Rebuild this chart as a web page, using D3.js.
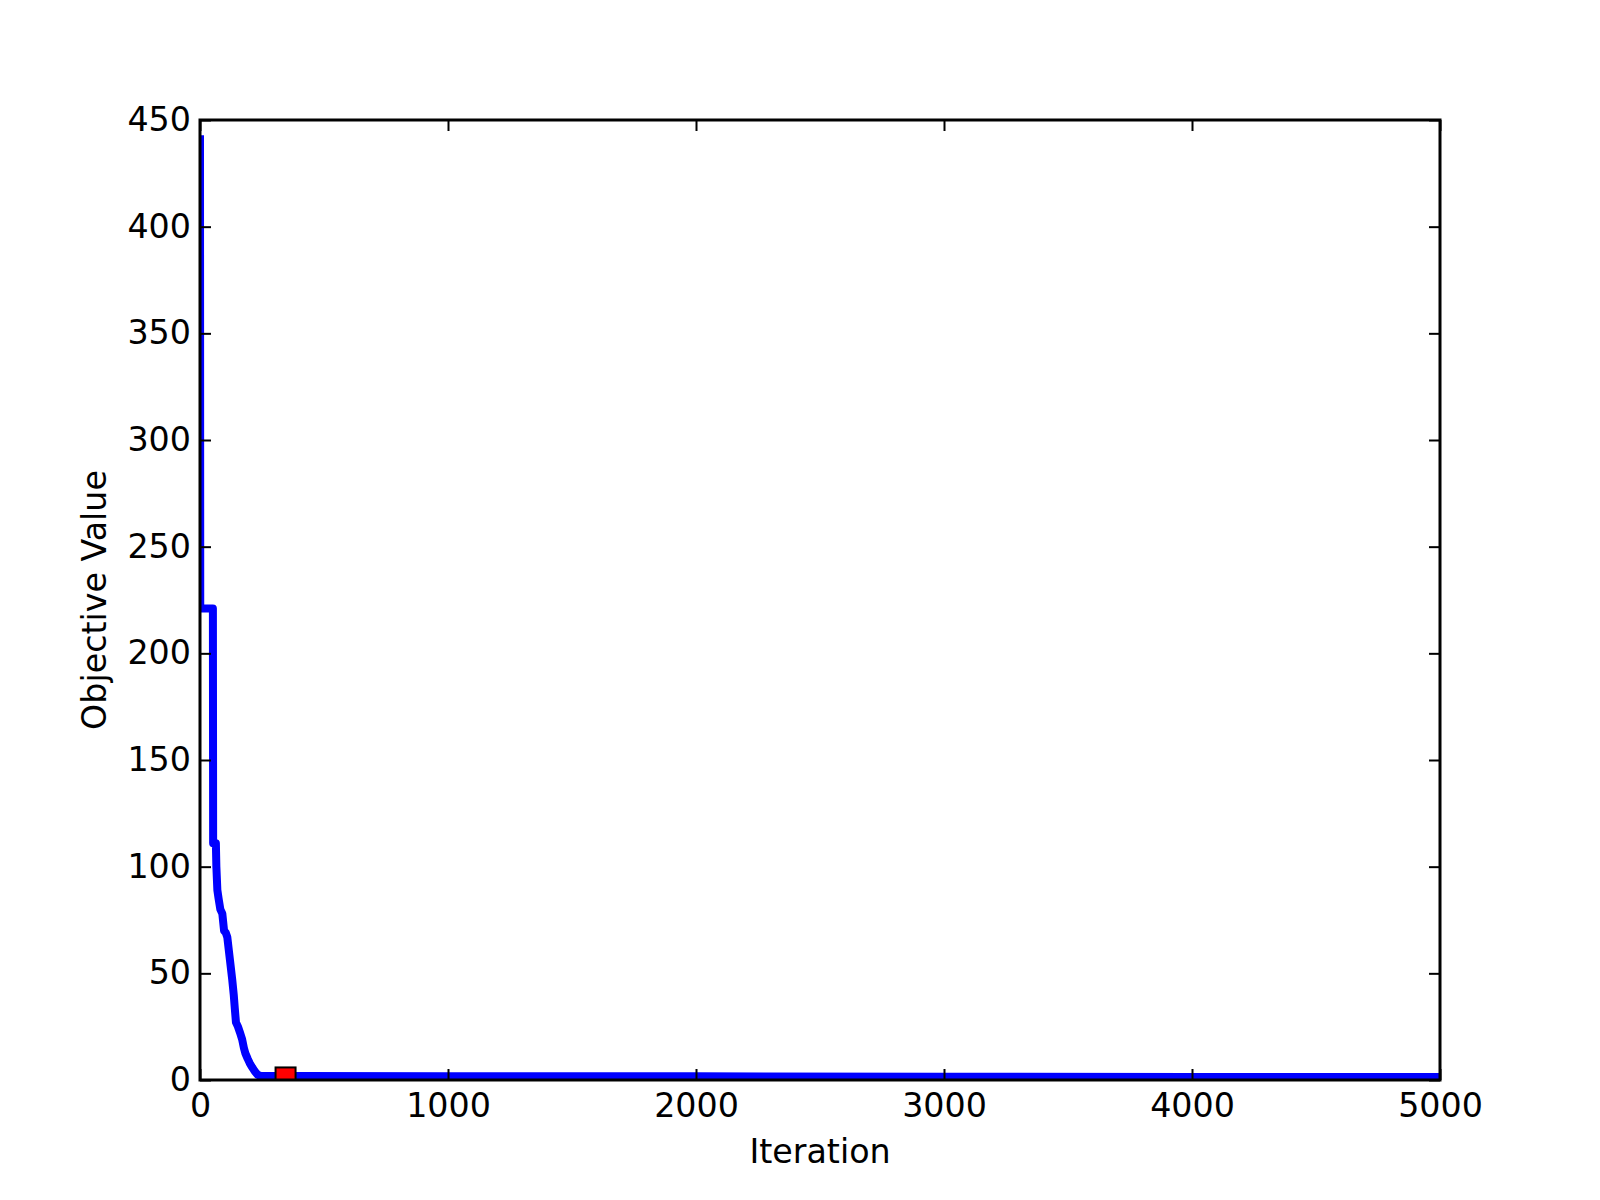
<!DOCTYPE html>
<html>
<head>
<meta charset="utf-8">
<script src="https://cdn.jsdelivr.net/npm/d3@7"></script>
<style>
  html, body { margin: 0; padding: 0; background: #fff; }
  svg { display: block; }
  text { font-family: "DejaVu Sans", sans-serif; fill: #000; }
</style>
</head>
<body>
<script>
// Data
const iterations = [0, 1, 52, 53, 64, 66, 70, 75, 82, 90, 97, 104, 110, 117, 121, 130, 136, 140, 145, 153, 162, 170, 177, 183, 192, 200, 210, 221, 232, 245, 400, 1000, 2000, 3000, 4000, 5000];
const objectiveValues = [441, 221, 221, 111, 111, 100, 89, 85, 80, 78, 70, 69, 67, 60, 56, 47, 40, 34, 27, 25, 22, 19, 15, 12.5, 10, 8, 6, 4, 2.5, 1.9, 1.9, 1.8, 1.7, 1.55, 1.45, 1.35];
const bestIteration = [345];
const bestValue = [1.2];
const xTicks = [0, 1000, 2000, 3000, 4000, 5000];
const yTicks = [0, 50, 100, 150, 200, 250, 300, 350, 400, 450];
const xLabel = "Iteration";
const yLabel = "Objective Value";

const W = 1600, H = 1200;
const m = { left: 200, right: 1440, top: 120, bottom: 1080 };

const svg = d3.select("body").append("svg").attr("width", W).attr("height", H);

const x = d3.scaleLinear().domain([0, 5000]).range([m.left, m.right]);
const y = d3.scaleLinear().domain([0, 450]).range([m.bottom, m.top]);

svg.append("defs").append("clipPath").attr("id", "clip")
  .append("rect").attr("x", m.left).attr("y", m.top)
  .attr("width", m.right - m.left).attr("height", m.bottom - m.top);

const data = iterations.map((d, i) => [d, objectiveValues[i]]);

const plot = svg.append("g").attr("clip-path", "url(#clip)");

plot.append("path")
  .datum(data)
  .attr("fill", "none")
  .attr("stroke", "#0000ff")
  .attr("stroke-width", 8)
  .attr("stroke-linejoin", "round")
  .attr("stroke-linecap", "square")
  .attr("d", d3.line().x(d => x(d[0])).y(d => y(d[1])));

const ms = 20;
plot.selectAll("rect.best")
  .data(bestIteration.map((d, i) => [d, bestValue[i]]))
  .enter().append("rect")
  .attr("class", "best")
  .attr("x", d => x(d[0]) - ms / 2)
  .attr("y", d => y(d[1]) - ms / 2)
  .attr("width", ms).attr("height", ms)
  .attr("fill", "#ff0000")
  .attr("stroke", "#000")
  .attr("stroke-width", 2);

const tickLen = 11;
const fontSize = 33.3;

// Axes with inward ticks
const xAxis = svg.append("g").attr("transform", `translate(0,${m.bottom})`)
  .call(d3.axisBottom(x).tickValues(xTicks).tickFormat(d3.format("d"))
    .tickSizeInner(-tickLen).tickSizeOuter(0).tickPadding(13));
const xTop = svg.append("g").attr("transform", `translate(0,${m.top})`)
  .call(d3.axisTop(x).tickValues(xTicks).tickFormat("")
    .tickSizeInner(-tickLen).tickSizeOuter(0));
const yAxis = svg.append("g").attr("transform", `translate(${m.left},0)`)
  .call(d3.axisLeft(y).tickValues(yTicks).tickFormat(d3.format("d"))
    .tickSizeInner(-tickLen).tickSizeOuter(0).tickPadding(9));
const yRight = svg.append("g").attr("transform", `translate(${m.right},0)`)
  .call(d3.axisRight(y).tickValues(yTicks).tickFormat("")
    .tickSizeInner(-tickLen).tickSizeOuter(0));

[xAxis, xTop, yAxis, yRight].forEach(g => {
  g.select(".domain").remove();
  g.selectAll(".tick line").attr("stroke", "#000").attr("stroke-width", 2);
  g.selectAll(".tick text").attr("font-family", "DejaVu Sans, sans-serif")
    .attr("font-size", fontSize).attr("fill", "#000");
});
xAxis.selectAll(".tick text").attr("dy", "0.71em");

// Frame (spines)
svg.append("rect")
  .attr("x", m.left).attr("y", m.top)
  .attr("width", m.right - m.left).attr("height", m.bottom - m.top)
  .attr("fill", "none").attr("stroke", "#000").attr("stroke-width", 3);

// Axis labels
svg.append("text")
  .attr("x", (m.left + m.right) / 2).attr("y", 1163)
  .attr("text-anchor", "middle").attr("font-size", fontSize)
  .text(xLabel);

svg.append("text")
  .attr("transform", `translate(106,${(m.top + m.bottom) / 2}) rotate(-90)`)
  .attr("text-anchor", "middle").attr("font-size", fontSize)
  .text(yLabel);
</script>
</body>
</html>
